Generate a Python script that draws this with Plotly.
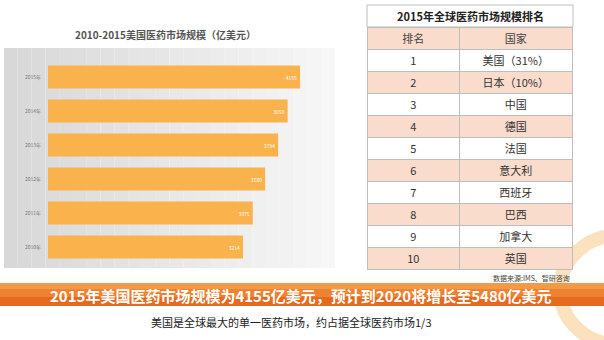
import plotly.graph_objects as go

years = ["2010年", "2011年", "2012年", "2013年", "2014年", "2015年"]
market = [3214, 3375, 3580, 3794, 3950, 4155]

rank = ["1", "2", "3", "4", "5", "6", "7", "8", "9", "10"]
countries = ["美国（31%）", "日本（10%）", "中国", "德国", "法国", "意大利", "西班牙", "巴西", "加拿大", "英国"]

FONT = "Noto Sans CJK SC"
W, H = 604, 340

def px(x):
    return x / W

def py(y):
    return 1 - y / H

fig = go.Figure()

fig.add_trace(go.Bar(
    x=market, y=years, orientation="h",
    marker=dict(color="#F9B24C", line=dict(width=0)),
    width=0.68,
    text=[str(v) for v in market], textposition="inside", insidetextanchor="end",
    textfont=dict(color="white", size=5, family=FONT),
    hoverinfo="skip", showlegend=False,
))

peach = "#F9DCCB"
fills = [["white" if i % 2 == 0 else peach for i in range(len(rank))]] * 2
fig.add_trace(go.Table(
    domain=dict(x=[px(367), px(573)], y=[py(272), py(27)]),
    columnwidth=[93, 113],
    header=dict(values=["排名", "国家"], fill_color=peach, align="center", height=22,
                line=dict(color="#BDBDBD", width=1),
                font=dict(family=FONT, size=11, color="#444")),
    cells=dict(values=[rank, countries], fill_color=fills, align="center", height=22,
               line=dict(color="#BDBDBD", width=1),
               font=dict(family=FONT, size=11, color="#333")),
))

shapes = []
# gray gradient panel behind bar chart
n = 24
x0, x1 = 4, 335
for i in range(n):
    t = i / (n - 1)
    c = int(216 + (247 - 216) * t)
    shapes.append(dict(type="rect", xref="paper", yref="paper",
                       x0=px(x0 + (x1 - x0) * i / n), x1=px(x0 + (x1 - x0) * (i + 1) / n),
                       y0=py(268), y1=py(48), line=dict(width=0),
                       fillcolor=f"rgb({c},{c},{c})", layer="below"))
# title row of table
shapes.append(dict(type="rect", xref="paper", yref="paper", x0=px(367), x1=px(573),
                   y0=py(27), y1=py(5), fillcolor="white", line=dict(color="#BDBDBD", width=1)))
# orange banner
bands = [(283, 289, "#F39A48"), (289, 297, "#EE8233"), (297, 306, "#E56A20")]
for a, b, col in bands:
    shapes.append(dict(type="rect", xref="paper", yref="paper", x0=0, x1=1,
                       y0=py(b), y1=py(a), fillcolor=col, line=dict(width=0)))
# decorative ring bottom right
shapes.append(dict(type="circle", xref="paper", yref="paper", x0=px(560), x1=px(680),
                   y0=py(345), y1=py(235), line=dict(color="rgba(247,170,70,0.35)", width=14),
                   layer="below"))

def ann(text, x, y, size, color, xanchor="center"):
    return dict(text=text, x=px(x), y=py(y), xref="paper", yref="paper", xanchor=xanchor,
                yanchor="middle", showarrow=False, font=dict(family=FONT, size=size, color=color))

annotations = [
    ann("<b>2010-2015美国医药市场规模（亿美元）</b>", 165, 35, 10, "#555"),
    ann("<b>2015年全球医药市场规模排名</b>", 470, 16, 11, "#222"),
    ann("数据来源:IMS、智研咨询", 572, 278, 7, "#444", xanchor="right"),
    ann("<b>2015年美国医药市场规模为4155亿美元，预计到2020将增长至5480亿美元</b>", 301, 295, 15, "white"),
    ann("美国是全球最大的单一医药市场，约占据全球医药市场1/3", 291, 322, 11, "#222"),
]

fig.update_layout(
    width=W, height=H, margin=dict(l=0, r=0, t=0, b=0),
    paper_bgcolor="white", plot_bgcolor="rgba(0,0,0,0)",
    xaxis=dict(domain=[px(48), px(321)], range=[0, 4500], visible=False),
    yaxis=dict(domain=[py(264), py(60)], range=[-0.5, 5.5], showgrid=False, zeroline=False,
               showline=False, ticks="", ticklabelstandoff=6,
               tickfont=dict(family=FONT, size=5, color="#777")),
    shapes=shapes, annotations=annotations, bargap=0.32,
)

fig.write_html("out.html")
